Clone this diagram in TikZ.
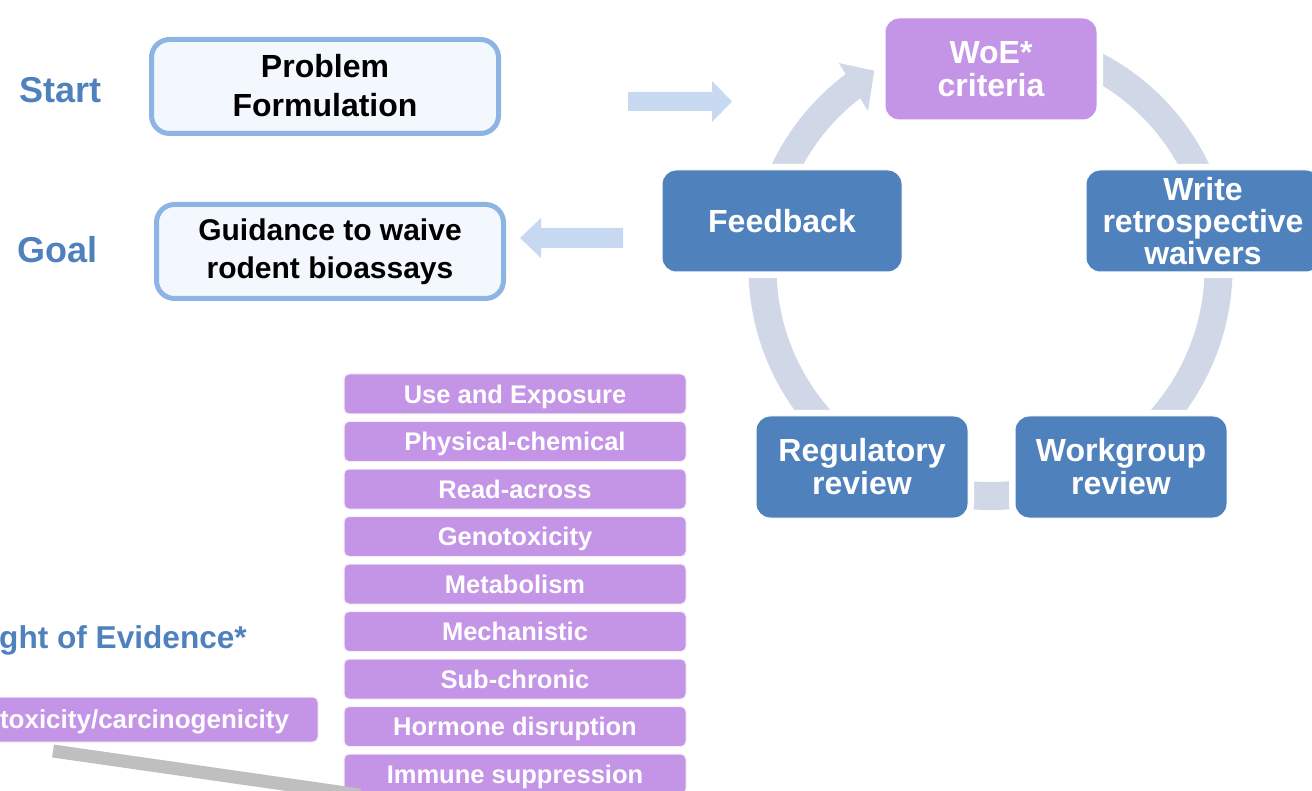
\documentclass[tikz,border=0pt]{standalone}
\usepackage{fontspec}
\setmainfont{Liberation Sans}
\definecolor{cycblue}{HTML}{4F81BD}
\definecolor{woepurple}{HTML}{C494E7}
\definecolor{ringc}{HTML}{D0D8E8}
\definecolor{arrowc}{HTML}{C6D9F1}
\definecolor{boxedge}{HTML}{8DB4E2}
\definecolor{boxfill}{HTML}{F3F8FE}
\definecolor{titleblue}{HTML}{4F81BD}
\definecolor{greyline}{HTML}{BFBFBF}
\begin{document}
\begin{tikzpicture}[x=1pt,y=1pt,
  cyc/.style={rectangle, rounded corners=14pt, fill=cycblue, draw=white, line width=1pt,
    preaction={draw=white, line width=12pt}, inner sep=0pt, text=white, align=center,
    font=\bfseries\fontsize{32}{33}\selectfont},
  pbox/.style={rectangle, rounded corners=18pt, draw=boxedge, line width=5pt, fill=boxfill,
    minimum width=347pt, minimum height=94pt, inner sep=0pt, align=center, text=black},
  lbox/.style={rectangle, rounded corners=5pt, fill=woepurple, draw=white!85!woepurple, line width=1pt,
    minimum width=342pt, minimum height=40pt, inner sep=0pt, text=white,
    text height=18.3pt, text depth=0pt,
    font=\bfseries\fontsize{25.5}{26}\selectfont},
  title/.style={inner sep=0pt, text=titleblue, font=\bfseries\fontsize{36}{36}\selectfont},
  ring/.style={draw=ringc, line width=28pt},
  flatarrow/.style={fill=arrowc}
]
\useasboundingbox (0,0) rectangle (1312,-791);
\clip (0,0) rectangle (1312,-791);

% cycle ring
\coordinate (C) at (990.5,-268);
\draw[ring] ([shift={(160:228)}]C) arc[start angle=160, end angle=126, radius=228];
\fill[ringc] ([shift={(126.5:255)}]C) -- ([shift={(120.5:229)}]C) -- ([shift={(128:199)}]C) -- cycle;
\draw[ring] ([shift={(112:228)}]C) arc[start angle=112, end angle=-200, radius=228];

% cycle boxes
\node[cyc, fill=woepurple, minimum width=212pt, minimum height=102pt] (woe) at (991,-69) {WoE*\\criteria};
\node[cyc, minimum width=240pt, minimum height=102pt] (feedback) at (782,-221) {Feedback};
\node[cyc, minimum width=234pt, minimum height=102pt, font=\bfseries\fontsize{32}{32}\selectfont] (write) at (1203,-221) {Write\\retrospective\\waivers};
\node[cyc, minimum width=212pt, minimum height=102pt] (regulatory) at (862,-467) {Regulatory\\review};
\node[cyc, minimum width=212pt, minimum height=102pt] (workgroup) at (1121,-467) {Workgroup\\review};

% start / goal
\node[title, anchor=base west] (start) at (19,-103) {Start};
\node[title, anchor=base west] (goal) at (17,-263) {Goal};
\node[pbox, font=\bfseries\fontsize{32}{39}\selectfont] (problem) at (325,-86.5) {\raisebox{2pt}{Problem}\\\raisebox{2pt}{Formulation}};
\node[pbox, font=\bfseries\fontsize{30}{38}\selectfont] (guidance) at (330,-251.5) {Guidance to waive\\rodent bioassays};

% flat arrows
\coordinate (ra) at (628,-101.5);
\coordinate (la) at (623,-238);
\fill[flatarrow] (ra) ++(0,9.5) -- ++(84,0) -- ++(0,11) -- (732,-101.5) -- (712,-122) -- ++(0,11) -- ++(-84,0) -- cycle;
\fill[flatarrow] (la) ++(0,10) -- ++(-82,0) -- ++(0,10) -- (520,-238) -- (541,-258) -- ++(0,10) -- ++(82,0) -- cycle;

% weight of evidence list
\node[lbox] (l1) at (515,-394) {Use and Exposure};
\node[lbox] (l2) at (515,-441.5) {Physical-chemical};
\node[lbox] (l3) at (515,-489) {Read-across};
\node[lbox] (l4) at (515,-536.5) {Genotoxicity};
\node[lbox] (l5) at (515,-584) {Metabolism};
\node[lbox] (l6) at (515,-631.5) {Mechanistic};
\node[lbox] (l7) at (515,-679) {Sub-chronic};
\node[lbox] (l8) at (515,-726.5) {Hormone disruption};
\node[lbox] (l9) at (515,-774) {Immune suppression};

\node[inner sep=0pt, text=titleblue, font=\bfseries\fontsize{31.6}{32}\selectfont, anchor=base east] (woetitle) at (247,-648) {ght of Evidence*};
\node[lbox, minimum width=347pt, minimum height=45pt, text height=18.6pt, font=\bfseries\fontsize{26}{26}\selectfont] (chronic) at (144.5,-719.5) {toxicity/carcinogenicity};

% grey bar
\coordinate (g1) at (53,-751);
\coordinate (g2) at (360,-795);
\draw[greyline, line width=13pt] (g1) -- (g2);
\end{tikzpicture}
\end{document}
